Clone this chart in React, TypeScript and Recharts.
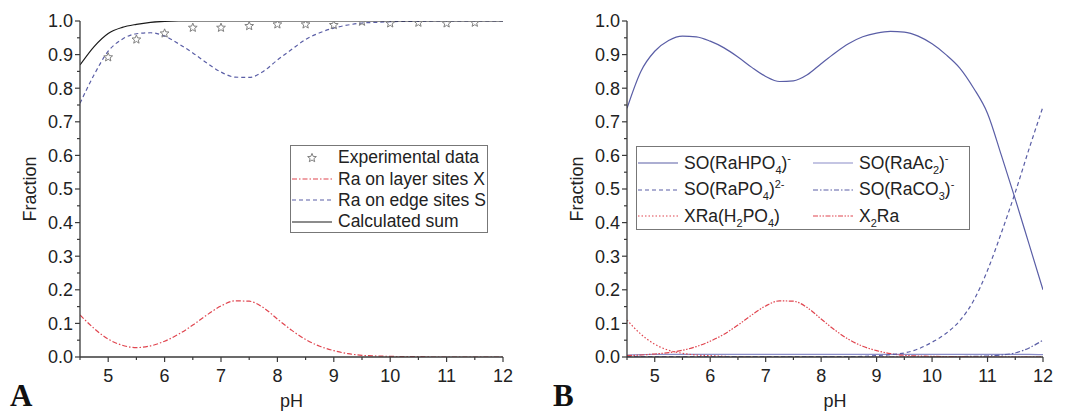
import React from 'react';
import { LineChart, Line, XAxis, YAxis, Legend, Label } from 'recharts';

// pH grid shared by every curve
const pH = [
  4.5, 4.75, 5, 5.25, 5.5, 5.75, 6, 6.25, 6.5, 6.75, 7, 7.25, 7.5, 7.75, 8, 8.25,
  8.5, 8.75, 9, 9.25, 9.5, 9.75, 10, 10.25, 10.5, 10.75, 11, 11.25, 11.5, 11.75, 12,
];

const xTicks = [4.5, 5, 5.5, 6, 6.5, 7, 7.5, 8, 8.5, 9, 9.5, 10, 10.5, 11, 11.5, 12];
const yTicks = [
  0, 0.05, 0.1, 0.15, 0.2, 0.25, 0.3, 0.35, 0.4, 0.45, 0.5, 0.55, 0.6, 0.65, 0.7,
  0.75, 0.8, 0.85, 0.9, 0.95, 1,
];

// panel A
const layerX = [
  0.125, 0.085, 0.053, 0.035, 0.028, 0.033, 0.047, 0.068, 0.095, 0.125, 0.152, 0.167,
  0.166, 0.147, 0.113, 0.08, 0.052, 0.032, 0.019, 0.01, 0.005, 0.003, 0.002, 0.001,
  0.001, 0, 0, 0, 0, 0, 0,
];
const edgeS = [
  0.755, 0.84, 0.91, 0.946, 0.962, 0.965, 0.955, 0.932, 0.905, 0.875, 0.848, 0.833,
  0.832, 0.85, 0.884, 0.915, 0.945, 0.965, 0.979, 0.988, 0.994, 0.996, 0.998, 0.999,
  0.999, 1, 1, 1, 1, 1, 1,
];
const calcSum = [
  0.869, 0.924, 0.963, 0.981, 0.99, 0.996, 0.999, 1, 1, 1, 1, 1, 1, 1, 1, 1, 1, 1, 1,
  1, 1, 1, 1, 1, 1, 1, 1, 1, 1, 1, 1,
];
const expPH = [5, 5.5, 6, 6.5, 7, 7.5, 8, 8.5, 9, 9.5, 10, 10.5, 11, 11.5];
const expFrac = [
  0.892, 0.945, 0.963, 0.98, 0.98, 0.985, 0.99, 0.99, 0.988, 0.998, 0.993, 0.995,
  0.993, 0.995,
];

// panel B
const raHPO4 = [
  0.74, 0.85, 0.91, 0.942, 0.955, 0.953, 0.94, 0.92, 0.893, 0.862, 0.835, 0.82, 0.822,
  0.84, 0.873, 0.905, 0.933, 0.953, 0.964, 0.969, 0.967, 0.955, 0.932, 0.9, 0.86, 0.8,
  0.725, 0.6, 0.47, 0.335, 0.2,
];
const raAc2 = [
  0.006, 0.007, 0.008, 0.008, 0.008, 0.008, 0.008, 0.008, 0.008, 0.008, 0.008, 0.008,
  0.008, 0.008, 0.008, 0.008, 0.008, 0.008, 0.008, 0.008, 0.008, 0.008, 0.008, 0.008,
  0.008, 0.008, 0.008, 0.008, 0.008, 0.008, 0.007,
];
const raPO4 = [
  0.001, 0.001, 0.001, 0.001, 0.001, 0.001, 0.001, 0.001, 0.001, 0.001, 0.001, 0.001,
  0.001, 0.001, 0.001, 0.001, 0.001, 0.002, 0.004, 0.007, 0.012, 0.024, 0.044, 0.07,
  0.108, 0.168, 0.258, 0.37, 0.49, 0.62, 0.745,
];
const raCO3 = [
  0, 0, 0, 0, 0, 0, 0, 0, 0, 0, 0, 0, 0, 0, 0, 0, 0, 0, 0, 0, 0, 0, 0, 0, 0.001, 0.002,
  0.003, 0.006, 0.012, 0.027, 0.05,
];
const xRaH2PO4 = [
  0.11, 0.068, 0.038, 0.02, 0.011, 0.006, 0.004, 0.002, 0.001, 0.001, 0, 0, 0, 0, 0, 0,
  0, 0, 0, 0, 0, 0, 0, 0, 0, 0, 0, 0, 0, 0, 0,
];
const x2Ra = [
  0.004, 0.006, 0.009, 0.013, 0.02, 0.031, 0.047, 0.068, 0.095, 0.125, 0.152, 0.167,
  0.166, 0.147, 0.113, 0.08, 0.052, 0.032, 0.019, 0.01, 0.005, 0.003, 0.002, 0.001,
  0.001, 0, 0, 0, 0, 0, 0,
];

const dataA = pH.map((p, i) => {
  const j = expPH.indexOf(p);
  return {
    pH: p,
    layerX: layerX[i],
    edgeS: edgeS[i],
    sum: calcSum[i],
    exp: j >= 0 ? expFrac[j] : null,
  };
});

const dataB = pH.map((p, i) => ({
  pH: p,
  raHPO4: raHPO4[i],
  raAc2: raAc2[i],
  raPO4: raPO4[i],
  raCO3: raCO3[i],
  xRaH2PO4: xRaH2PO4[i],
  x2Ra: x2Ra[i],
}));

const FONT = '"Liberation Sans", Arial, sans-serif';
const AXIS = '#3a3a3a';
const TEXT = '#222';
const BLUE = '#5a5ea6';
const LIGHTBLUE = '#8a8cc8';
const RED = '#e0454f';
const STAR = '#808080';
const TICK_FONT = 18;

const isMajorY = (v: number) => Math.round(v * 100) % 10 === 0;

function BottomTick({ x, y, payload }: any) {
  const v = payload.value;
  const major = Number.isInteger(v);
  return (
    <g>
      <line x1={x} x2={x} y1={y} y2={y + (major ? 5 : 3)} stroke={AXIS} strokeWidth={1.2} />
      {major && (
        <text x={x} y={y + 12} dy="0.71em" textAnchor="middle" fontFamily={FONT} fontSize={TICK_FONT} fill={TEXT}>
          {v}
        </text>
      )}
    </g>
  );
}

function TopTick({ x, y, payload }: any) {
  const major = Number.isInteger(payload.value);
  return <line x1={x} x2={x} y1={y} y2={y + (major ? 5 : 3)} stroke={AXIS} strokeWidth={1.2} />;
}

function LeftTick({ x, y, payload }: any) {
  const v = payload.value;
  const major = isMajorY(v);
  return (
    <g>
      <line x1={x - (major ? 5 : 3)} x2={x} y1={y} y2={y} stroke={AXIS} strokeWidth={1.2} />
      {major && (
        <text x={x - 7} y={y} dy="0.36em" textAnchor="end" fontFamily={FONT} fontSize={TICK_FONT} fill={TEXT}>
          {v.toFixed(1)}
        </text>
      )}
    </g>
  );
}

function RightTick({ x, y, payload }: any) {
  const major = isMajorY(payload.value);
  return <line x1={x - (major ? 5 : 3)} x2={x} y1={y} y2={y} stroke={AXIS} strokeWidth={1.2} />;
}

function StarDot({ cx, cy, payload }: any) {
  if (payload == null || payload.exp == null || cx == null || cy == null) return <g />;
  const pts: string[] = [];
  for (let k = 0; k < 10; k++) {
    const r = k % 2 === 0 ? 4.6 : 2;
    const a = -Math.PI / 2 + (k * Math.PI) / 5;
    pts.push(`${cx + r * Math.cos(a)},${cy + r * Math.sin(a)}`);
  }
  return <polygon points={pts.join(' ')} fill="none" stroke={STAR} strokeWidth={1} />;
}

function Sample({ color, dash, star }: { color?: string; dash?: string; star?: boolean }) {
  return (
    <svg width={40} height={10} style={{ display: 'block', flex: 'none' }}>
      {star ? (
        <StarDot cx={20} cy={5} payload={{ exp: 1 }} />
      ) : (
        <line x1={0} x2={40} y1={5} y2={5} stroke={color} strokeWidth={1.2} strokeDasharray={dash} />
      )}
    </svg>
  );
}

const sub = { fontSize: 11, verticalAlign: 'sub' as const, lineHeight: 0 };
const sup = { fontSize: 11, verticalAlign: 'super' as const, lineHeight: 0 };

function LegendA() {
  const rows = [
    { name: 'Experimental data', star: true },
    { name: 'Ra on layer sites X', color: RED, dash: '5 2 1.5 2' },
    { name: 'Ra on edge sites S', color: BLUE, dash: '4 3' },
    { name: 'Calculated sum', color: '#1a1a1a' },
  ];
  return (
    <div
      style={{
        width: 198,
        height: 88,
        boxSizing: 'border-box',
        border: '1.5px solid #777',
        background: '#fff',
        paddingTop: 1,
        fontFamily: FONT,
        fontSize: 17.5,
        color: TEXT,
      }}
    >
      {rows.map(r => (
        <div key={r.name} style={{ height: 21.4, display: 'flex', alignItems: 'center', whiteSpace: 'nowrap' }}>
          <div style={{ marginLeft: 1, marginRight: 6 }}>
            <Sample color={r.color} dash={r.dash} star={r.star} />
          </div>
          <span>{r.name}</span>
        </div>
      ))}
    </div>
  );
}

function LegendB() {
  const rows = [
    {
      key: 'hpo4',
      color: BLUE,
      label: (
        <>
          SO(RaHPO<span style={sub}>4</span>)<span style={sup}>-</span>
        </>
      ),
    },
    {
      key: 'ac2',
      color: LIGHTBLUE,
      label: (
        <>
          SO(RaAc<span style={sub}>2</span>)<span style={sup}>-</span>
        </>
      ),
    },
    {
      key: 'po4',
      color: BLUE,
      dash: '4 3',
      label: (
        <>
          SO(RaPO<span style={sub}>4</span>)<span style={sup}>2-</span>
        </>
      ),
    },
    {
      key: 'co3',
      color: BLUE,
      dash: '5 2 1.5 2',
      label: (
        <>
          SO(RaCO<span style={sub}>3</span>)<span style={sup}>-</span>
        </>
      ),
    },
    {
      key: 'h2po4',
      color: RED,
      dash: '1.5 2',
      label: (
        <>
          XRa(H<span style={sub}>2</span>PO<span style={sub}>4</span>)
        </>
      ),
    },
    {
      key: 'x2ra',
      color: RED,
      dash: '5 1.5 1.5 1.5 1.5 1.5',
      label: (
        <>
          X<span style={sub}>2</span>Ra
        </>
      ),
    },
  ];
  return (
    <div
      style={{
        width: 334,
        height: 84,
        boxSizing: 'border-box',
        border: '1.5px solid #777',
        background: '#fff',
        paddingTop: 3,
        display: 'grid',
        gridTemplateColumns: '175px 155px',
        gridAutoRows: '26.5px',
        fontFamily: FONT,
        fontSize: 17.5,
        color: TEXT,
      }}
    >
      {rows.map(r => (
        <div key={r.key} style={{ display: 'flex', alignItems: 'center', whiteSpace: 'nowrap', overflow: 'visible' }}>
          <div style={{ marginLeft: 1, marginRight: 6 }}>
            <Sample color={r.color} dash={r.dash} />
          </div>
          <span>{r.label}</span>
        </div>
      ))}
    </div>
  );
}

function axes() {
  return [
    <XAxis
      key="xb"
      dataKey="pH"
      type="number"
      domain={[4.5, 12]}
      allowDataOverflow
      ticks={xTicks}
      interval={0}
      tickSize={0}
      tickMargin={0}
      tickLine={false}
      tick={<BottomTick />}
      height={55}
      axisLine={{ stroke: AXIS, strokeWidth: 1.3 }}
    >
      <Label value="pH" position="insideBottom" offset={5} fontFamily={FONT} fontSize={TICK_FONT} fill={TEXT} />
    </XAxis>,
    <XAxis
      key="xt"
      xAxisId="top"
      orientation="top"
      dataKey="pH"
      type="number"
      domain={[4.5, 12]}
      allowDataOverflow
      ticks={xTicks}
      interval={0}
      mirror
      height={0}
      tickSize={0}
      tickMargin={0}
      tickLine={false}
      tick={<TopTick />}
      axisLine={{ stroke: AXIS, strokeWidth: 1.3 }}
    />,
    <YAxis
      key="yl"
      type="number"
      domain={[0, 1]}
      allowDataOverflow
      ticks={yTicks}
      interval={0}
      width={60}
      tickSize={0}
      tickMargin={0}
      tickLine={false}
      tick={<LeftTick />}
      axisLine={{ stroke: AXIS, strokeWidth: 1.3 }}
    >
      <Label
        value="Fraction"
        angle={-90}
        position="insideLeft"
        offset={10}
        fontFamily={FONT}
        fontSize={TICK_FONT}
        fill={TEXT}
        style={{ textAnchor: 'middle' }}
      />
    </YAxis>,
    <YAxis
      key="yr"
      yAxisId="right"
      orientation="right"
      type="number"
      domain={[0, 1]}
      allowDataOverflow
      ticks={yTicks}
      interval={0}
      mirror
      width={0}
      tickSize={0}
      tickMargin={0}
      tickLine={false}
      tick={<RightTick />}
      axisLine={{ stroke: AXIS, strokeWidth: 1.3 }}
    />,
  ];
}

const lineProps = {
  type: 'monotone' as const,
  dot: false,
  activeDot: false,
  isAnimationActive: false,
  strokeWidth: 1.2,
};

export default function App() {
  return (
    <div
      style={{
        position: 'absolute',
        left: 0,
        top: 0,
        width: 1067,
        height: 412,
        background: '#fff',
        overflow: 'hidden',
      }}
    >
      <div style={{ position: 'absolute', left: 0, top: 0 }}>
        <LineChart width={530} height={412} data={dataA} margin={{ top: 21, right: 27, bottom: 0, left: 20 }}>
          {axes()}
          <Legend
            layout="vertical"
            align="center"
            verticalAlign="middle"
            content={() => <LegendA />}
            wrapperStyle={{ left: 290, top: 145, width: 198, height: 88 }}
          />
          <Line {...lineProps} dataKey="exp" stroke="none" dot={<StarDot />} />
          <Line {...lineProps} dataKey="layerX" stroke={RED} strokeDasharray="5 2 1.5 2" />
          <Line {...lineProps} dataKey="edgeS" stroke={BLUE} strokeDasharray="4 3" />
          <Line {...lineProps} dataKey="sum" stroke="#1a1a1a" />
        </LineChart>
      </div>
      <div style={{ position: 'absolute', left: 530, top: 0 }}>
        <LineChart width={537} height={412} data={dataB} margin={{ top: 21, right: 24, bottom: 0, left: 37 }}>
          {axes()}
          <Legend
            layout="vertical"
            align="center"
            verticalAlign="middle"
            content={() => <LegendB />}
            wrapperStyle={{ left: 106, top: 146, width: 334, height: 84 }}
          />
          <Line {...lineProps} dataKey="raAc2" stroke={LIGHTBLUE} />
          <Line {...lineProps} dataKey="raCO3" stroke={BLUE} strokeDasharray="5 2 1.5 2" />
          <Line {...lineProps} dataKey="xRaH2PO4" stroke={RED} strokeDasharray="1.5 2" />
          <Line {...lineProps} dataKey="x2Ra" stroke={RED} strokeDasharray="5 1.5 1.5 1.5 1.5 1.5" />
          <Line {...lineProps} dataKey="raPO4" stroke={BLUE} strokeDasharray="4 3" />
          <Line {...lineProps} dataKey="raHPO4" stroke={BLUE} />
        </LineChart>
      </div>
      <svg width={1067} height={412} style={{ position: 'absolute', left: 0, top: 0, pointerEvents: 'none' }}>
        <text x={10} y={406} fontFamily='"Liberation Serif", "Times New Roman", serif' fontWeight="bold" fontSize={31} fill="#111">
          A
        </text>
        <text x={553} y={406} fontFamily='"Liberation Serif", "Times New Roman", serif' fontWeight="bold" fontSize={31} fill="#111">
          B
        </text>
      </svg>
    </div>
  );
}
